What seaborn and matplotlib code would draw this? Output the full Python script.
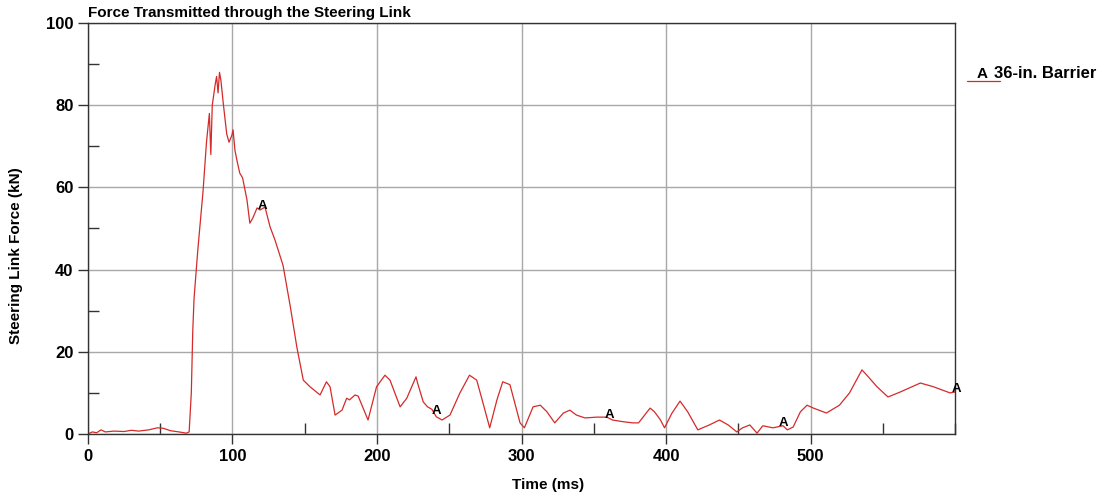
import matplotlib
matplotlib.use("Agg")
import matplotlib.pyplot as plt
import seaborn as sns
import numpy as np
import pandas as pd
from matplotlib.lines import Line2D
from matplotlib.ticker import MultipleLocator

# --- style ---
sns.set_style("ticks")
plt.rcParams['font.family'] = ['Liberation Sans', 'DejaVu Sans']
plt.rcParams['font.weight'] = 'bold'
plt.rcParams['text.color'] = 'black'
plt.rcParams['axes.labelcolor'] = 'black'
plt.rcParams['xtick.color'] = 'black'
plt.rcParams['ytick.color'] = 'black'

# --- data (time in ms, force in kN) ---
time_ms = [0, 3, 6, 9, 12, 18, 25, 30, 35, 42, 48, 52, 57, 63, 68, 70,
           71.5, 72.5, 73.4, 76, 79.6, 82, 84, 85, 86, 88, 89, 90, 91, 92,
           93.6, 96, 97.6, 99.6, 100.4, 101.7, 103, 105, 107, 110, 112, 114,
           117, 119, 122.5, 126, 129.4, 135, 140, 144.6, 149, 153.6, 160.6,
           165, 167.5, 171, 175.8, 179, 181, 184.8, 187, 193.8, 199.7, 205.5,
           209, 216, 220.6, 227, 228, 232, 235, 238, 241, 245, 250.5, 257.4,
           264, 269, 273, 278, 283, 287, 292, 295, 299, 302, 308, 313, 317.6,
           323, 329, 333.5, 338, 344, 352, 359, 363, 370, 377, 381, 389, 392,
           396, 399, 404, 409.7, 415, 422, 430, 437, 443, 449, 453, 458, 463,
           467, 474, 481, 484, 488, 493, 497.6, 502, 511, 520, 527, 535.6, 540,
           546, 553.6, 562, 576, 585, 596.5, 600]
force_kn = [0.0, 0.5, 0.3, 1.0, 0.5, 0.7, 0.6, 0.9, 0.7, 1.0, 1.5, 1.4, 0.8,
            0.5, 0.2, 0.5, 10, 25, 33, 44.8, 59, 71, 78, 68, 80, 85, 87, 83,
            88, 86, 80.5, 73, 71, 72.7, 74, 69, 66.7, 63.5, 62.3, 57, 51.3,
            52.5, 55, 54.5, 55.2, 50.4, 47.2, 41, 31, 21, 13.1, 11.5, 9.5,
            12.7, 11.5, 4.6, 5.8, 8.7, 8.3, 9.5, 9.2, 3.4, 11.5, 14.3, 13.1,
            6.6, 8.7, 13.9, 12.5, 7.8, 6.6, 6.0, 4.2, 3.4, 4.6, 10, 14.3, 13.1,
            8, 1.5, 8.3, 12.7, 12, 8, 2.7, 1.5, 6.6, 7, 5.4, 2.7, 5.1, 5.8, 4.6,
            3.9, 4.1, 4.1, 3.4, 3.0, 2.7, 2.7, 6.3, 5.4, 3.5, 1.5, 5, 8, 5.4, 1,
            2.2, 3.4, 2.2, 0.5, 1.5, 2.2, 0.2, 2, 1.5, 2.0, 1, 1.7, 5.4, 7, 6.3,
            5.1, 7, 10, 15.6, 13.9, 11.5, 9, 10.2, 12.4, 11.5, 10, 10.2]
marker_times = [120, 240, 360, 480, 600]

df = pd.DataFrame({'Time (ms)': time_ms, 'Force (kN)': force_kn})
line_color = '#d42a2a'

fig = plt.figure(figsize=(11.11, 4.97), dpi=100)
ax = fig.add_axes([0.0792, 0.1268, 0.7804, 0.8269])

sns.lineplot(data=df, x='Time (ms)', y='Force (kN)', ax=ax,
             color=line_color, linewidth=0.9)

# "A" symbols along the curve
marker_vals = np.interp(marker_times, time_ms, force_kn)
for t, v in zip(marker_times, marker_vals):
    ax.annotate('A', (t, v), xytext=(1, 2), textcoords='offset points',
                ha='center', va='center', fontsize=9.5, fontweight='bold',
                annotation_clip=False)

ax.set_xlim(0, 600)
ax.set_ylim(0, 100)
ax.set_xticks([0, 100, 200, 300, 400, 500])
ax.set_yticks([0, 20, 40, 60, 80, 100])
ax.xaxis.set_minor_locator(MultipleLocator(50))
ax.yaxis.set_minor_locator(MultipleLocator(10))
ax.tick_params(which='major', direction='out', length=7, width=1,
               labelsize=12, color='#333333')
ax.tick_params(which='minor', direction='in', length=8, width=1,
               color='#333333')
for lab in ax.get_xticklabels() + ax.get_yticklabels():
    lab.set_fontweight('bold')

ax.grid(True, which='major', color='#a8a8a8', linewidth=1)
for sp in ax.spines.values():
    sp.set_color('#333333')
    sp.set_linewidth(1)

ax.set_xlabel('Time (ms)', fontsize=11, fontweight='bold')
ax.xaxis.set_label_coords(0.531, -0.107)
ax.set_ylabel('Steering Link Force (kN)', fontsize=11, fontweight='bold')
ax.yaxis.set_label_coords(-0.075, 0.435)
ax.set_title('Force Transmitted through the Steering Link', loc='left',
             fontsize=11, fontweight='bold', pad=4)

# legend on the right
fig.add_artist(Line2D([0.870, 0.900], [0.838, 0.838], color=line_color,
                      linewidth=0.9, transform=fig.transFigure))
fig.text(0.884, 0.852, 'A', ha='center', va='center', fontsize=11,
         fontweight='bold')
fig.text(0.8945, 0.852, '36-in. Barrier', ha='left', va='center',
         fontsize=12, fontweight='bold')

fig.savefig('out.png', dpi=100)
